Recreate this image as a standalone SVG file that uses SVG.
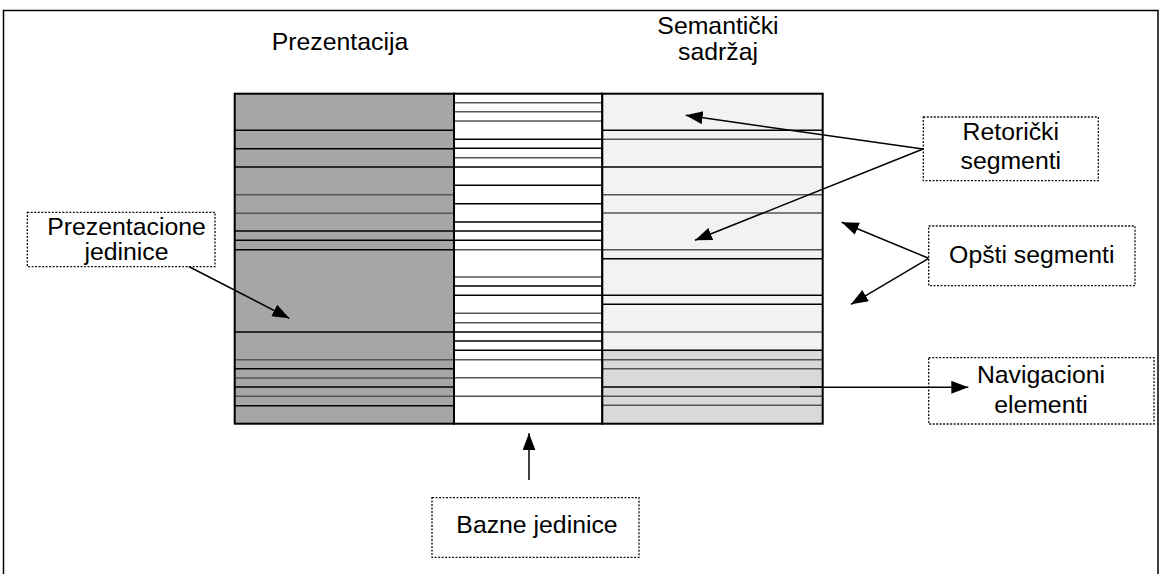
<svg xmlns="http://www.w3.org/2000/svg" width="1161" height="574" viewBox="0 0 1161 574">
<style>
text{font-family:"Liberation Sans",Arial,sans-serif;font-size:24.8px;fill:#000;text-anchor:middle}
.k{stroke:#000;stroke-width:1.5}
.g{stroke:#555;stroke-width:1.5}
.col{stroke:#000;stroke-width:2}
.box{fill:#fff;stroke:#111;stroke-width:1.3;stroke-dasharray:2 1.5}
.conn{stroke:#000;stroke-width:1.5;fill:none;marker-end:url(#ah)}
</style>
<defs>
<marker id="ah" markerUnits="userSpaceOnUse" markerWidth="18" markerHeight="14" refX="17" refY="6.5" orient="auto">
<path d="M0,0 L17,6.5 L0,13 z" fill="#000"/>
</marker>
</defs>
<rect x="0" y="0" width="1161" height="574" fill="#fff"/>
<path d="M3.5,580 V10.5 H1158 V580" fill="none" stroke="#000" stroke-width="1.5"/>

<g id="col-prezentacija">
<rect x="234.7" y="93.7" width="219.3" height="330" fill="#a6a6a6"/>
<g>
<line class="k" x1="234.7" x2="454" y1="130.3" y2="130.3"/>
<line class="k" x1="234.7" x2="454" y1="148.7" y2="148.7"/>
<line class="k" x1="234.7" x2="454" y1="167" y2="167"/>
<line class="g" x1="234.7" x2="454" y1="194.7" y2="194.7"/>
<line class="g" x1="234.7" x2="454" y1="213.3" y2="213.3"/>
<line class="k" x1="234.7" x2="454" y1="231" y2="231"/>
<line class="k" x1="234.7" x2="454" y1="240.3" y2="240.3"/>
<line class="k" x1="234.7" x2="454" y1="249.7" y2="249.7"/>
<line class="k" x1="234.7" x2="454" y1="332" y2="332"/>
<line class="g" x1="234.7" x2="454" y1="359.7" y2="359.7"/>
<line class="k" x1="234.7" x2="454" y1="368.7" y2="368.7"/>
<line class="g" x1="234.7" x2="454" y1="378" y2="378"/>
<line class="k" x1="234.7" x2="454" y1="387" y2="387"/>
<line class="g" x1="234.7" x2="454" y1="396.3" y2="396.3"/>
<line class="k" x1="234.7" x2="454" y1="405.7" y2="405.7"/>
</g>
<rect class="col" x="234.7" y="93.7" width="219.3" height="330" fill="none"/>
<text x="340" y="49.5">Prezentacija</text>
</g>

<g id="col-bazne">
<rect x="454" y="93.7" width="148.3" height="330" fill="#fff"/>
<line class="g" x1="454" x2="602.3" y1="102.7" y2="102.7"/>
<line class="g" x1="454" x2="602.3" y1="111.7" y2="111.7"/>
<line class="g" x1="454" x2="602.3" y1="121" y2="121"/>
<line class="k" x1="454" x2="602.3" y1="139.3" y2="139.3"/>
<line class="k" x1="454" x2="602.3" y1="148.3" y2="148.3"/>
<line class="g" x1="454" x2="602.3" y1="157.7" y2="157.7"/>
<line class="k" x1="454" x2="602.3" y1="167" y2="167"/>
<line class="k" x1="454" x2="602.3" y1="185.3" y2="185.3"/>
<line class="k" x1="454" x2="602.3" y1="203.7" y2="203.7"/>
<line class="k" x1="454" x2="602.3" y1="222" y2="222"/>
<line class="k" x1="454" x2="602.3" y1="231" y2="231"/>
<line class="k" x1="454" x2="602.3" y1="240.3" y2="240.3"/>
<line class="g" x1="454" x2="602.3" y1="249.7" y2="249.7"/>
<line class="g" x1="454" x2="602.3" y1="277" y2="277"/>
<line class="k" x1="454" x2="602.3" y1="286" y2="286"/>
<line class="k" x1="454" x2="602.3" y1="295.3" y2="295.3"/>
<line class="g" x1="454" x2="602.3" y1="313.3" y2="313.3"/>
<line class="g" x1="454" x2="602.3" y1="322.7" y2="322.7"/>
<line class="k" x1="454" x2="602.3" y1="332" y2="332"/>
<line class="k" x1="454" x2="602.3" y1="341" y2="341"/>
<line class="k" x1="454" x2="602.3" y1="350.3" y2="350.3"/>
<line class="g" x1="454" x2="602.3" y1="359.7" y2="359.7"/>
<line class="g" x1="454" x2="602.3" y1="377.7" y2="377.7"/>
<line class="g" x1="454" x2="602.3" y1="396.3" y2="396.3"/>
<rect class="col" x="454" y="93.7" width="148.3" height="330" fill="none"/>
</g>

<g id="col-semanticki">
<rect x="602.3" y="93.7" width="220.4" height="256.6" fill="#f2f2f2"/>
<rect x="602.3" y="350.3" width="220.4" height="73.4" fill="#d9d9d9"/>
<line class="k" x1="602.3" x2="822.7" y1="130.3" y2="130.3"/>
<line class="g" x1="602.3" x2="822.7" y1="139.3" y2="139.3"/>
<line class="k" x1="602.3" x2="822.7" y1="167" y2="167"/>
<line class="g" x1="602.3" x2="822.7" y1="194.7" y2="194.7"/>
<line class="g" x1="602.3" x2="822.7" y1="213" y2="213"/>
<line class="g" x1="602.3" x2="822.7" y1="249.7" y2="249.7"/>
<line class="k" x1="602.3" x2="822.7" y1="258.7" y2="258.7"/>
<line class="k" x1="602.3" x2="822.7" y1="295.3" y2="295.3"/>
<line class="k" x1="602.3" x2="822.7" y1="304.3" y2="304.3"/>
<line class="g" x1="602.3" x2="822.7" y1="332" y2="332"/>
<line class="k" x1="602.3" x2="822.7" y1="350.3" y2="350.3"/>
<line class="g" x1="602.3" x2="822.7" y1="359.7" y2="359.7"/>
<line class="g" x1="602.3" x2="822.7" y1="368.7" y2="368.7"/>
<line class="k" x1="602.3" x2="822.7" y1="387" y2="387"/>
<line class="g" x1="602.3" x2="822.7" y1="396.3" y2="396.3"/>
<line class="g" x1="602.3" x2="822.7" y1="405.3" y2="405.3"/>
<rect class="col" x="602.3" y="93.7" width="220.4" height="330" fill="none"/>
<text x="718" y="33.5">Semantički</text>
<text x="718" y="59.5">sadržaj</text>
</g>

<g id="connectors">
<line class="conn" x1="180" y1="262" x2="289.3" y2="318.3"/>
<line class="conn" x1="529" y1="480" x2="529" y2="433.3"/>
<line class="conn" x1="923" y1="149" x2="685.7" y2="115.3"/>
<line class="conn" x1="923" y1="149" x2="695" y2="240.3"/>
<line class="conn" x1="928.7" y1="258.3" x2="841.7" y2="222.3"/>
<line class="conn" x1="928.7" y1="258.3" x2="851" y2="304.3"/>
</g>

<g id="node-prezentacione">
<rect class="box" x="27.3" y="212.3" width="187.7" height="54.4"/>
<text x="126.5" y="235">Prezentacione</text>
<text x="126.5" y="259.5">jedinice</text>
</g>

<g id="node-bazne">
<rect class="box" x="432" y="497.7" width="207" height="59.6"/>
<text x="537" y="533.3">Bazne jedinice</text>
</g>

<g id="node-retoricki">
<rect class="box" x="923.3" y="117" width="175" height="63.7"/>
<text x="1010.8" y="140">Retorički</text>
<text x="1010.8" y="169">segmenti</text>
</g>

<g id="node-opsti">
<rect class="box" x="928.7" y="226" width="206.3" height="59.7"/>
<text x="1031.8" y="263.3">Opšti segmenti</text>
</g>

<g id="node-navigacioni">
<rect class="box" x="928.7" y="357.7" width="225.3" height="66.3"/>
<text x="1041" y="383.3">Navigacioni</text>
<text x="1041" y="413.3">elementi</text>
</g>

<g id="connector-nav">
<line class="conn" x1="800" y1="387.3" x2="968.3" y2="387.3"/>
</g>
</svg>
